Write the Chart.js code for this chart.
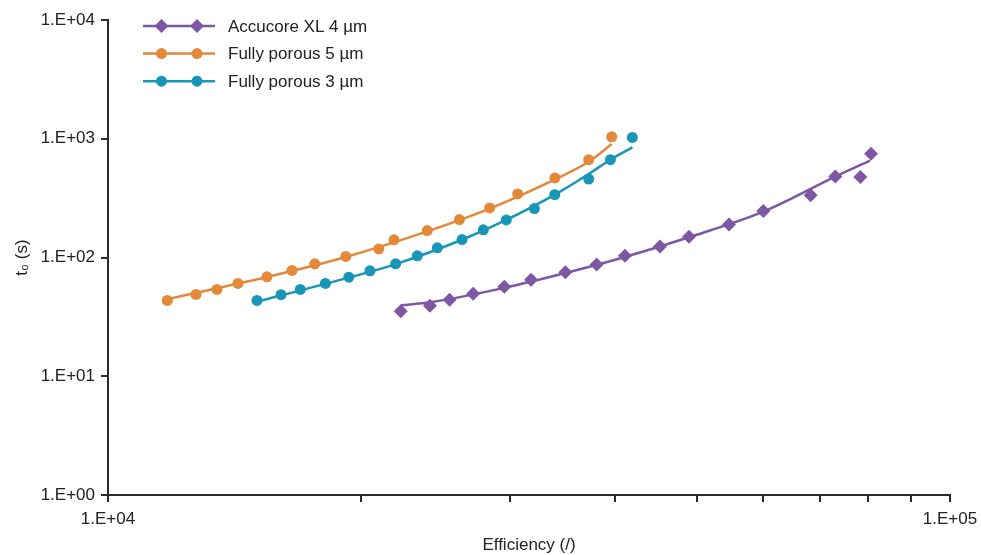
<!DOCTYPE html>
<html>
<head>
<meta charset="utf-8">
<script src="https://cdn.jsdelivr.net/npm/chart.js@4"></script>
<style>
  html, body { margin: 0; padding: 0; background: #fff; }
  #wrap { width: 981px; height: 555px; }
</style>
</head>
<body>
<div id="wrap"><canvas id="c" width="981" height="555"></canvas></div>
<script>
// series names and colours
const seriesNames = ["Accucore XL 4 µm", "Fully porous 5 µm", "Fully porous 3 µm"]
const seriesColors = ["#7d57a3", "#e2893a", "#1896b8"]

// measured points (efficiency, t0)
const accucoreX = [22270, 24120, 25450, 27140, 29560, 31800, 34930, 38050, 41110, 45240, 48980, 54640, 60020, 68320, 73080, 78260, 80590]
const accucoreY = [35.2, 39.3, 44.1, 49.5, 56.7, 64.9, 75.2, 87.3, 103.3, 123.7, 149.3, 189.4, 246.9, 333.8, 482, 476, 748]

const porous5X = [11760, 12720, 13470, 14265, 15445, 16540, 17600, 19160, 20970, 21860, 23940, 26140, 28400, 30660, 33950, 37230, 39650]
const porous5Y = [43.5, 48.9, 53.8, 60.5, 68.8, 77.8, 88.5, 102, 118, 140.8, 168.6, 208.5, 261.6, 343, 467.7, 666, 1039]

const porous3X = [15030, 16050, 16920, 18120, 19320, 20470, 21960, 23300, 24610, 26330, 27910, 29720, 32090, 33930, 37230, 39510, 41950]
const porous3Y = [43.5, 48.6, 53.8, 60.5, 68.3, 77.3, 88.5, 103.3, 120.6, 141.7, 170.9, 207.4, 258, 338, 458, 666, 1026]

// fitted trend lines
const accucoreFitX = [22270, 24120, 29560, 34930, 41110, 48980, 60020, 73080, 80360]
const accucoreFitY = [39.5, 42, 55.5, 74, 101, 148, 243, 480, 653]
const porous5FitX = [11740, 15445, 19160, 23940, 28400, 33950, 37230, 39650]
const porous5FitY = [44.5, 68.5, 101, 166, 258, 455, 640, 902]
const porous3FitX = [15030, 18120, 21960, 26330, 29720, 33930, 37230, 39510, 41950]
const porous3FitY = [42.5, 60, 88, 141, 207, 338, 505, 666, 845]

// axis ticks
const xTickValues = [10000, 20000, 30000, 40000, 50000, 60000, 70000, 80000, 90000, 100000]
const xTickLabels = { 10000: "1.E+04", 100000: "1.E+05" }
const yTickValues = [1, 10, 100, 1000, 10000]
const yTickLabels = ["1.E+00", "1.E+01", "1.E+02", "1.E+03", "1.E+04"]

const pointStyles = ["rectRot", "circle", "circle"]
const pointRadii = [7, 5.5, 5.5]

function pairs(xs, ys) {
  return xs.map((x, i) => ({ x: x, y: ys[i] }))
}

const pointSets = [pairs(accucoreX, accucoreY), pairs(porous5X, porous5Y), pairs(porous3X, porous3Y)]
const fitSets = [pairs(accucoreFitX, accucoreFitY), pairs(porous5FitX, porous5FitY), pairs(porous3FitX, porous3FitY)]

const datasets = []
for (let i = 0; i < 3; i++) {
  datasets.push({
    label: seriesNames[i] + " fit",
    data: fitSets[i],
    showLine: true,
    borderColor: seriesColors[i],
    borderWidth: 2.5,
    pointRadius: 0,
    cubicInterpolationMode: "monotone",
    order: 2,
  })
  datasets.push({
    label: seriesNames[i],
    data: pointSets[i],
    showLine: false,
    pointStyle: pointStyles[i],
    pointRadius: pointRadii[i],
    backgroundColor: seriesColors[i],
    borderColor: seriesColors[i],
    borderWidth: 0,
    order: 1,
  })
}

const FONT = "'Liberation Sans', Arial, sans-serif"
const INK = "#222"

// legend: line with two markers, like the original
const lineLegend = {
  id: "lineLegend",
  afterDraw(chart) {
    const ctx = chart.ctx
    ctx.save()
    ctx.font = "17px " + FONT
    ctx.textBaseline = "middle"
    for (let i = 0; i < 3; i++) {
      const y = 26 + i * 27.6
      ctx.strokeStyle = seriesColors[i]
      ctx.lineWidth = 2.5
      ctx.beginPath()
      ctx.moveTo(143, y)
      ctx.lineTo(215, y)
      ctx.stroke()
      ctx.fillStyle = seriesColors[i]
      const opts = { pointStyle: pointStyles[i], radius: pointRadii[i], borderWidth: 0, rotation: 0 }
      Chart.helpers.drawPoint(ctx, opts, 161.5, y)
      Chart.helpers.drawPoint(ctx, opts, 197, y)
      ctx.fillStyle = INK
      ctx.fillText(seriesNames[i], 228, y + 1)
    }
    ctx.restore()
  },
}

const axisColor = "#2b2b2b"

new Chart(document.getElementById("c"), {
  type: "scatter",
  data: { datasets: datasets },
  plugins: [lineLegend],
  options: {
    responsive: false,
    animation: false,
    layout: { padding: { left: 0, top: 20, right: 31, bottom: 0 } },
    plugins: { legend: { display: false }, tooltip: { enabled: false } },
    scales: {
      x: {
        type: "logarithmic",
        min: 10000,
        max: 100000,
        afterBuildTicks: (scale) => {
          scale.ticks = xTickValues.map((v) => ({ value: v }))
        },
        afterFit: (scale) => {
          scale.height = 60
          // labels fit inside the layout padding, so no extra room
          scale.paddingLeft = 0
          scale.paddingRight = 0
        },
        ticks: {
          autoSkip: false,
          maxRotation: 0,
          padding: 7,
          color: INK,
          font: { family: FONT, size: 17 },
          callback: (value) => xTickLabels[value] || "",
        },
        grid: { drawOnChartArea: false, drawTicks: true, tickLength: 7, color: axisColor, lineWidth: 2 },
        border: { display: true, color: axisColor, width: 2 },
        title: {
          display: true,
          text: "Efficiency (/)",
          color: INK,
          font: { family: FONT, size: 17 },
          padding: { top: 0, bottom: -1 },
        },
      },
      y: {
        type: "logarithmic",
        min: 1,
        max: 10000,
        afterBuildTicks: (scale) => {
          scale.ticks = yTickValues.map((v) => ({ value: v }))
        },
        afterFit: (scale) => {
          scale.width = 108
        },
        ticks: {
          autoSkip: false,
          padding: 6,
          color: INK,
          font: { family: FONT, size: 17 },
          callback: (value) => yTickLabels[yTickValues.indexOf(value)] || "",
        },
        grid: { drawOnChartArea: false, drawTicks: true, tickLength: 7, color: axisColor, lineWidth: 2 },
        border: { display: true, color: axisColor, width: 2 },
        title: {
          display: true,
          text: "t₀ (s)",
          color: INK,
          font: { family: FONT, size: 17 },
          padding: { top: 12, bottom: 0 },
        },
      },
    },
  },
})
</script>
</body>
</html>
